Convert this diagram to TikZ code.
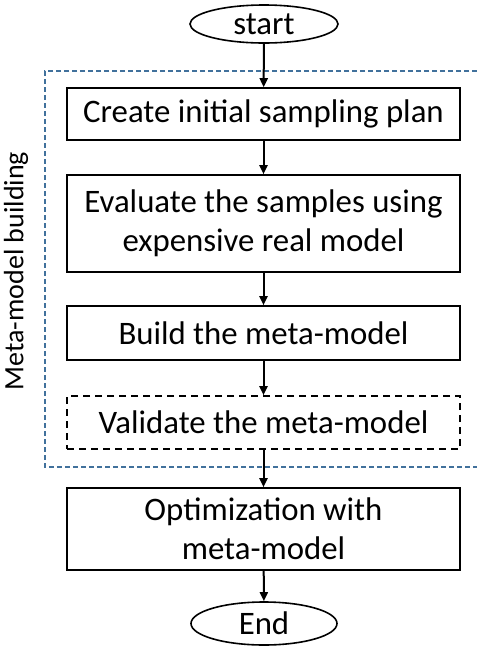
\documentclass[tikz,border=0pt]{standalone}
\usepackage{fontspec}
\setmainfont{Carlito}
\usetikzlibrary{shapes.geometric,arrows.meta}
\definecolor{grpblue}{HTML}{41719C}
\tikzset{
  stepbox/.style={draw=black,line width=1.6pt,minimum width=393pt,inner sep=0pt,align=center,font=\fontsize{32.8}{39}\selectfont},
  term/.style={draw=black,line width=1.6pt,ellipse,inner sep=0pt,font=\fontsize{32.8}{39}\selectfont},
  flow/.style={line width=2pt,-{Triangle[length=9pt,width=8pt]}},
}
\begin{document}
\begin{tikzpicture}[x=1pt,y=-1pt]
\useasboundingbox (0,0) rectangle (477,646);
\draw[grpblue,line width=1.8pt,dash pattern=on 5pt off 3pt] (485,71) -- (45,71) -- (45,467) -- (485,467);
\node[rotate=90,font=\fontsize{28}{32}\selectfont] (lbl) at (16,271) {Meta-model building};
\node[term,minimum width=148pt,minimum height=38pt] (start) at (264,24) {start};
\node[stepbox,minimum height=52pt] (b1) at (263.5,114) {Create initial sampling plan};
\node[stepbox,minimum height=97pt] (b2) at (263.5,223.5) {Evaluate the samples using\\expensive real model};
\node[stepbox,minimum height=54pt] (b3) at (263.5,333) {Build the meta-model};
\node[stepbox,minimum height=53pt,dash pattern=on 7pt off 5pt] (b4) at (263.5,422.5) {Validate the meta-model};
\node[stepbox,minimum height=82pt] (b5) at (263.5,529) {Optimization with\\meta-model};
\node[term,minimum width=146pt,minimum height=43pt] (end) at (264,623.5) {End};
\draw[flow] (start) -- (b1);
\draw[flow] (b1) -- (b2);
\draw[flow] (b2) -- (b3);
\draw[flow] (b3) -- (b4);
\draw[flow] (b4) -- (b5);
\draw[flow] (b5) -- (end);
\end{tikzpicture}
\end{document}
